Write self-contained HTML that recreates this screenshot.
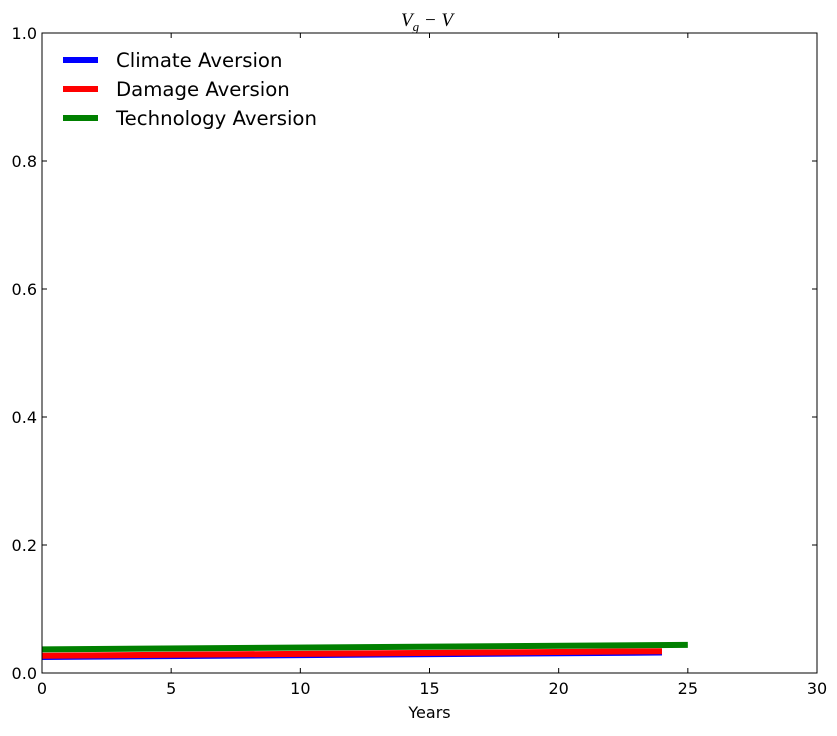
<!DOCTYPE html>
<html><head><meta charset="utf-8"><style>
body{margin:0;background:#fff;}
text{font-family:"DejaVu Sans","Liberation Sans",sans-serif;}
</style></head><body>
<svg id="chart" width="837" height="731" xmlns="http://www.w3.org/2000/svg">
<rect width="837" height="731" fill="#fff"/>
<g id="plot"></g>
</svg>
<script>
const xTicks=[0,5,10,15,20,25,30];
const yTicks=[0.0,0.2,0.4,0.6,0.8,1.0];
const yTickLabels=["0.0","0.2","0.4","0.6","0.8","1.0"];
const climateX=[0,24];
const climateY=[0.025,0.032];
const damageX=[0,24];
const damageY=[0.027,0.034];
const techX=[0,25];
const techY=[0.037,0.044];
const L=42,R=817,T=33,B=673;
const sx=v=>L+(v-0)/(30-0)*(R-L);
const sy=v=>B-(v-0)/(1-0)*(B-T);
const NS="http://www.w3.org/2000/svg";
const g=document.getElementById('plot');
function mk(tag,attrs,parent){const e=document.createElementNS(NS,tag);for(const k in attrs)e.setAttribute(k,attrs[k]);(parent||g).appendChild(e);return e;}
function series(xs,ys,color,name){
  const pts=xs.map((x,i)=>sx(x)+','+sy(ys[i])).join(' ');
  const p=mk('polyline',{points:pts,fill:'none',stroke:color,'stroke-width':6});
  
  
}
series(climateX,climateY,'#0000ff','climate-aversion-line');
series(damageX,damageY,'#ff0000','damage-aversion-line');
series(techX,techY,'#008000','technology-aversion-line');
const frame=mk('rect',{x:L,y:T,width:R-L,height:B-T,fill:'none',stroke:'#000','stroke-width':1});


xTicks.forEach(v=>{
  const x=sx(v);
  mk('line',{x1:x,x2:x,y1:B,y2:B-5,stroke:'#000'});
  mk('line',{x1:x,x2:x,y1:T,y2:T+5,stroke:'#000'});
  const t=mk('text',{x:x,y:B+21,'text-anchor':'middle','font-size':16});
  t.textContent=String(v);
  
  
});
yTicks.forEach((v,i)=>{
  const y=sy(v);
  mk('line',{x1:L,x2:L+5,y1:y,y2:y,stroke:'#000'});
  mk('line',{x1:R,x2:R-5,y1:y,y2:y,stroke:'#000'});
  const t=mk('text',{x:L-5,y:y+6,'text-anchor':'end','font-size':16});
  t.textContent=yTickLabels[i];
  
  
});
const xt=mk('text',{x:(L+R)/2,y:718,'text-anchor':'middle','font-size':16});
xt.textContent='Years';


const title=mk('text',{x:401,y:26,'font-size':19,'font-style':'italic',style:'font-family:"Liberation Serif",serif'});
title.innerHTML='V<tspan font-size="13" dy="5">g</tspan><tspan dy="-5"> − V</tspan>';


const legend=[['Climate Aversion','#0000ff'],['Damage Aversion','#ff0000'],['Technology Aversion','#008000']];
legend.forEach((d,i)=>{
  const y=60+i*29;
  const ln=mk('line',{x1:63,x2:98,y1:y,y2:y,stroke:d[1],'stroke-width':6});
  
  
  const t=mk('text',{x:116,y:y+7,'font-size':19.7});
  t.textContent=d[0];
  
  
});
</script>
</body></html>
